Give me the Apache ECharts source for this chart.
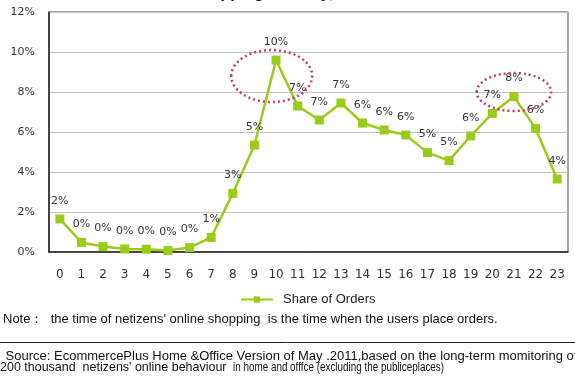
<!DOCTYPE html>
<html>
<head>
<meta charset="utf-8">
<script src="https://cdn.jsdelivr.net/npm/echarts@6/dist/echarts.min.js"></script>
<style>
html,body{margin:0;padding:0;background:#fff;}
#c{width:575px;height:387px;}
</style>
</head>
<body>
<div id="c"></div>
<script>
var hours = ['0','1','2','3','4','5','6','7','8','9','10','11','12','13','14','15','16','17','18','19','20','21','22','23'];
var shareOfOrders = [1.65,0.48,0.27,0.15,0.14,0.07,0.22,0.73,2.93,5.35,9.6,7.3,6.6,7.45,6.45,6.1,5.85,4.97,4.57,5.8,6.93,7.77,6.18,3.65];
var yTicks = [0,2,4,6,8,10,12];
var seriesName = 'Share of Orders';
var titleText = 'Time of Online Shopping in a Day, 2011';
var noteText = 'Note\uff1a  the time of netizens\' online shopping  is the time when the users place orders.';
var sourceLine1 = ' Source: EcommercePlus Home &Office Version of May .2011,based on the long-term momitoring of';
var sourceLine2a = '200 thousand  netizens\' online behaviour';
var sourceLine2b = 'in home and offfce (excluding the publiceplaces)';
// highlighted peaks: [centre category, centre value, half-width in categories, half-height in %]
var highlights = [[9.8, 8.8, 1.87, 1.3], [21.0, 8.0, 1.72, 0.95]];

var chart = echarts.init(document.getElementById('c'), null, {renderer:'canvas'});
var green = '#99cc1a';
var font = 'Liberation Sans, Arial, sans-serif';
chart.setOption({
  animation:false,
  backgroundColor:'#fff',
  grid:{left:49,right:7,top:12,bottom:135,show:true,borderColor:'#4a4a4a',borderWidth:1},
  legend:{
    data:[seriesName], left:235, top:288, itemWidth:32, itemHeight:8,
    textStyle:{fontFamily:font,fontSize:13,color:'#222',padding:[0,0,0,5]}
  },
  xAxis:{
    type:'category', data:hours, boundaryGap:true,
    axisLine:{show:true,lineStyle:{color:'#222',width:1.5}},
    axisTick:{show:false},
    axisLabel:{color:'#333',fontSize:12,fontFamily:'DejaVu Sans, sans-serif',margin:17}
  },
  yAxis:{
    type:'value', min:yTicks[0], max:yTicks[yTicks.length-1], interval:2,
    axisLine:{show:true,lineStyle:{color:'#222',width:1.5}},
    axisTick:{show:false},
    splitLine:{lineStyle:{color:'#c4c4c4',width:1}},
    axisLabel:{color:'#333',fontSize:11,fontFamily:'DejaVu Sans, sans-serif',margin:14,formatter:'{value}%'}
  },
  series:[{
    name:seriesName, type:'line', data:shareOfOrders,
    symbol:'rect', symbolSize:9,
    lineStyle:{color:green,width:2.5},
    itemStyle:{color:green},
    label:{show:true,position:'top',distance:8,color:'#333',fontSize:11,fontFamily:'DejaVu Sans, sans-serif',
      formatter:function(p){return Math.round(p.value)+'%';}}
  }]
});

var g = [];
g.push({type:'text', left:75, top:-14, style:{text:titleText, font:'bold 16px '+font, fill:'#111'}});
highlights.forEach(function(h){
  var a = chart.convertToPixel({gridIndex:0},[0,h[1]]);
  var b = chart.convertToPixel({gridIndex:0},[1,h[1]+h[3]]);
  var step = b[0]-a[0];
  var cx = a[0] + h[0]*step;
  g.push({type:'ellipse', z:100, shape:{cx:cx,cy:a[1],rx:h[2]*step,ry:Math.abs(a[1]-b[1])},
    style:{fill:'none',stroke:'#c83a64',lineWidth:2.5,lineDash:[2,3]}});
});
g.push({type:'text', left:3, top:313, style:{text:noteText, font:'13px '+font, fill:'#111'}});
g.push({type:'line', shape:{x1:0,y1:342.5,x2:575,y2:342.5}, style:{stroke:'#222',lineWidth:1}});
g.push({type:'text', left:2, top:350, style:{text:sourceLine1, font:'13px '+font, fill:'#111'}});
g.push({type:'text', x:0, y:361, scaleX:0.96, style:{text:sourceLine2a, font:'13px '+font, fill:'#111', verticalAlign:'top'}});
g.push({type:'text', x:233, y:361, scaleX:0.76, style:{text:sourceLine2b, font:'13px '+font, fill:'#111', verticalAlign:'top'}});
chart.setOption({graphic:g});
</script>
</body>
</html>
